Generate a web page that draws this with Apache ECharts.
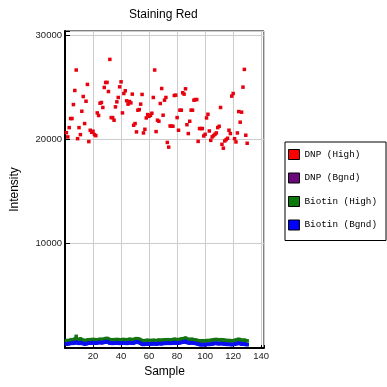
<!DOCTYPE html>
<html>
<head>
<meta charset="utf-8">
<script src="https://cdn.jsdelivr.net/npm/echarts@6/dist/echarts.min.js"></script>
<style>
html,body{margin:0;padding:0;background:#fff;}
#chart{width:387px;height:387px;}
</style>
</head>
<body>
<div id="chart"></div>
<script>
var titleText = 'Staining Red';
var xName = 'Sample';
var yName = 'Intensity';
var seriesNames = ['DNP (High)', 'DNP (Bgnd)', 'Biotin (High)', 'Biotin (Bgnd)'];
var seriesColors = ['#e8000f', '#6e0a80', '#137513', '#0a10f0'];
var legendColors = ['#ff0000', '#6a0a7a', '#0a7a0a', '#0000ff'];

var dnpHigh = [
20640,20230,21120,21990,21990,23330,24680,26640,20060,21120,
20450,22690,24100,21510,23650,25260,19780,20870,20670,20770,
20450,20350,22530,22280,23460,23530,23050,24970,25450,25450,
24580,27660,22080,22080,21830,23110,23590,24010,25030,25510,
22530,24390,24650,23690,23370,23620,23490,24330,21350,21510,
20710,22790,22850,23370,24300,20610,20960,22050,22370,22210,
22300,22500,24010,26640,20740,21830,21730,23430,24870,22310,
23750,24010,19700,19250,21280,21250,21250,24200,24230,22080,
20870,22790,22790,24460,24330,24840,21400,20550,21730,22790,
22790,23750,23810,23810,19800,21030,21030,21030,20320,20480,
22050,22400,20800,19900,20230,20350,20480,20610,21120,21250,
23050,19520,19150,19840,19970,20100,20870,20550,24140,24390,
20060,19750,20610,22660,21640,22600,25000,26700,20390,19620
];

var dnpBgnd = [
420,400,430,470,450,510,480,540,500,450,
510,480,430,400,410,450,480,470,500,510,
480,470,500,510,530,500,510,550,590,600,
530,480,470,450,480,470,500,480,450,470,
480,500,470,450,480,510,500,470,480,530,
580,550,510,470,380,360,380,390,410,390,
410,390,420,410,390,410,440,420,410,440,
460,450,480,460,450,460,480,510,500,470,
480,500,530,550,590,620,530,500,480,510,
500,460,450,430,390,350,320,350,330,320,
350,370,350,370,400,420,440,450,420,410,
440,420,410,390,370,350,370,350,330,350,
370,400,440,470,420,390,370,400,350,330
];

var biotinHigh = [
700,720,680,760,800,780,850,1120,820,760,
880,800,740,700,720,760,780,800,780,820,
800,760,780,800,840,800,820,860,900,920,
860,800,780,760,800,780,820,800,760,780,
800,820,780,760,800,840,820,780,800,860,
900,880,840,780,700,680,700,720,740,700,
720,700,740,720,700,720,760,740,720,760,
780,760,800,780,760,780,800,840,820,780,
800,820,860,880,900,960,860,820,800,840,
820,780,760,740,700,680,660,700,680,660,
700,720,700,720,760,780,800,820,780,760,
800,780,760,740,720,700,720,700,680,700,
720,760,800,840,780,740,720,760,700,680
];

var biotinBgnd = [
400,380,420,460,440,520,480,560,500,440,
520,480,420,380,400,440,480,460,500,520,
480,460,500,520,540,500,520,560,600,620,
540,480,460,440,480,460,500,480,440,460,
480,500,460,440,480,520,500,460,480,540,
600,560,520,460,360,340,360,380,400,380,
400,380,420,400,380,400,440,420,400,440,
460,440,480,460,440,460,480,520,500,460,
480,500,540,560,600,640,540,500,480,520,
500,460,440,420,380,340,300,340,320,300,
340,360,340,360,400,420,440,460,420,400,
440,420,400,380,360,340,360,340,320,340,
360,400,440,480,420,380,360,400,340,320
];

var xMin = 0, xMax = 142, xInterval = 20;
var yMin = 0, yMax = 30380, yInterval = 10000;

function pairs(arr){ return arr.map(function(v,i){ return [i+1, v]; }); }

var chart = echarts.init(document.getElementById('chart'), null, {renderer:'canvas'});
var font = 'Liberation Sans';
var option = {
  animation: false,
  backgroundColor: '#fff',
  title: {
    text: titleText, left: 129, top: 9, padding: 0,
    textStyle: {fontFamily: font, fontSize: 12, fontWeight: 'normal', color: '#000'}
  },
  legend: {
    orient: 'vertical', left: 285, top: 142,
    itemWidth: 11, itemHeight: 10, itemGap: 12.5,
    padding: [7, 9, 10, 3],
    borderColor: '#000', borderWidth: 1, backgroundColor: '#fff',
    textStyle: {fontFamily: 'Liberation Mono', fontSize: 9.3, color: '#000'},
    data: seriesNames.map(function(n, i){
      return {name: n, icon: 'rect', itemStyle: {color: legendColors[i], borderColor: '#000', borderWidth: 1, opacity: 1}};
    })
  },
  grid: {left: 65, right: 123, top: 31, bottom: 39, show: true, borderColor: '#000', borderWidth: 1, backgroundColor: 'transparent'},
  xAxis: {
    type: 'value', min: xMin, max: xMax, interval: xInterval,
    name: xName, nameLocation: 'middle', nameGap: 15,
    nameTextStyle: {fontFamily: font, fontSize: 12, color: '#000'},
    axisLine: {show: true, lineStyle: {color: '#000', width: 2}},
    axisTick: {show: true, inside: true, length: 3, lineStyle: {color: '#000'}},
    axisLabel: {fontFamily: font, fontSize: 9.5, color: '#222', margin: 3,
      formatter: function(v){ return (v === 0 || v % 20 !== 0) ? '' : String(v); }},
    splitLine: {show: true, lineStyle: {color: '#cccccc', width: 1}}
  },
  yAxis: {
    type: 'value', min: yMin, max: yMax, interval: yInterval,
    name: yName, nameLocation: 'middle', nameGap: 44,
    nameTextStyle: {fontFamily: font, fontSize: 12, color: '#000'},
    axisLine: {show: true, lineStyle: {color: '#000', width: 2}},
    axisTick: {show: true, inside: true, length: 5, lineStyle: {color: '#000'}},
    axisLabel: {fontFamily: font, fontSize: 9.5, color: '#222', margin: 3,
      formatter: function(v){ return (v === 0 || v % 10000 !== 0) ? '' : String(v); }},
    splitLine: {show: true, lineStyle: {color: '#cccccc', width: 1}}
  },
  series: [
    {name: seriesNames[0], type: 'scatter', data: pairs(dnpHigh), symbol: 'rect', symbolSize: 3.5,
     itemStyle: {color: seriesColors[0], opacity: 1}},
    {name: seriesNames[1], type: 'line', data: pairs(dnpBgnd), symbol: 'rect', symbolSize: 3, showAllSymbol: true,
     lineStyle: {color: seriesColors[1], width: 2.5}, itemStyle: {color: seriesColors[1]}},
    {name: seriesNames[2], type: 'line', data: pairs(biotinHigh), symbol: 'rect', symbolSize: 3.5, showAllSymbol: true,
     lineStyle: {color: seriesColors[2], width: 2.5}, itemStyle: {color: seriesColors[2]}},
    {name: seriesNames[3], type: 'line', data: pairs(biotinBgnd), symbol: 'rect', symbolSize: 3.5, showAllSymbol: true,
     lineStyle: {color: seriesColors[3], width: 2.5}, itemStyle: {color: seriesColors[3]}}
  ]
};
chart.setOption(option);
</script>
</body>
</html>
